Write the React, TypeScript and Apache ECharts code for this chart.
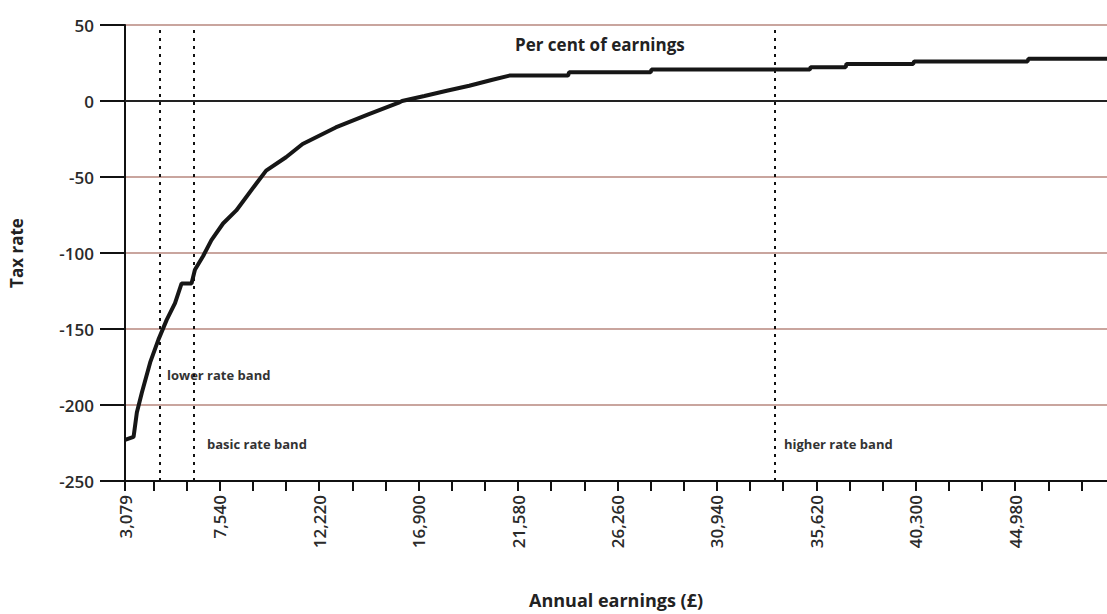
import React, { useEffect, useRef } from "react";
import * as echarts from "echarts";

// Annual earnings (£) sampled along the curve
const earnings = [
  3079, 3482, 3637, 3871, 4264, 4652, 5041, 5434, 5743, 6211, 6370, 6758, 7147,
  7694, 8317, 9253, 9721, 10657, 11438, 12997, 14560, 15964, 16119, 17171,
  18224, 19282, 20330, 21173, 23934, 23980, 27818, 27860, 35311, 35350, 36996,
  37040, 40178, 40220, 45560, 45600, 49300,
];
// Tax rate, per cent of earnings
const taxRate = [
  -223, -221, -205, -192, -172, -157, -144, -133, -120, -120, -111, -102, -91.5,
  -80.6, -72, -54.4, -45.8, -37, -28.3, -17.4, -8.7, -1.1, 0, 3.3, 6.7, 10,
  13.8, 16.7, 16.7, 18.9, 18.9, 20.7, 20.7, 22.2, 22.2, 24.4, 24.4, 26, 26,
  27.8, 27.8,
];

const xTickValues = [
  3079, 4420, 5980, 7540, 9100, 10660, 12220, 13780, 15340, 16900, 18460, 20020,
  21580, 23140, 24700, 26260, 27820, 29380, 30940, 32500, 34060, 35620, 37180,
  38740, 40300, 41860, 43420, 44980, 46540, 48100,
];
const xLabelValues = [
  3079, 7540, 12220, 16900, 21580, 26260, 30940, 35620, 40300, 44980,
];
const yTicks = [-250, -200, -150, -100, -50, 0, 50];

const bandStarts = [4700, 6320, 33670];
const bandNames = ["lower rate band", "basic rate band", "higher rate band"];

const FONT = "'Open Sans', sans-serif";

export default function App() {
  const ref = useRef<HTMLDivElement>(null);

  useEffect(() => {
    document.body.style.margin = "0";
    if (!ref.current) return;
    const chart = echarts.init(ref.current, undefined, { renderer: "svg" });

    const data = earnings.map((e, i) => [e, taxRate[i]]);

    chart.setOption({
      animation: false,
      backgroundColor: "#ffffff",
      grid: { left: 121, right: 0, top: 25, bottom: 131, containLabel: false },
      xAxis: {
        type: "value",
        min: 3079,
        max: 49300,
        name: "Annual earnings (£)",
        nameLocation: "middle",
        nameGap: 110,
        nameTextStyle: {
          fontFamily: FONT,
          fontSize: 18,
          fontWeight: "bold",
          color: "#222",
        },
        axisLine: {
          show: true,
          onZero: false,
          lineStyle: { color: "#111", width: 2 },
        },
        axisTick: {
          show: true,
          length: 10,
          lineStyle: { color: "#111", width: 2 },
          customValues: xTickValues,
        },
        axisLabel: {
          show: true,
          rotate: 90,
          margin: 14,
          fontFamily: FONT,
          fontSize: 17,
          fontWeight: 600,
          color: "#2a2a2a",
          customValues: xLabelValues,
          formatter: (v: number) => v.toLocaleString("en-GB"),
        },
        splitLine: { show: false },
      },
      yAxis: {
        type: "value",
        min: -250,
        max: 50,
        interval: 50,
        name: "Tax rate",
        nameLocation: "middle",
        nameGap: 100,
        nameTextStyle: {
          fontFamily: FONT,
          fontSize: 17,
          fontWeight: "bold",
          color: "#222",
        },
        axisLine: { show: true, lineStyle: { color: "#111", width: 2 } },
        axisTick: {
          show: true,
          length: 25,
          lineStyle: { color: "#111", width: 2 },
        },
        axisLabel: {
          margin: 31,
          fontFamily: FONT,
          fontSize: 17,
          fontWeight: 600,
          color: "#2a2a2a",
          customValues: yTicks,
        },
        splitLine: {
          show: true,
          lineStyle: { color: "#c9a59e", width: 2 },
        },
      },
      series: [
        {
          type: "line",
          data,
          showSymbol: false,
          symbol: "none",
          lineStyle: { color: "#161616", width: 4 },
          z: 5,
          markLine: {
            silent: true,
            symbol: "none",
            label: { show: false },
            data: [
              {
                yAxis: 0,
                lineStyle: { color: "#222", width: 2, type: "solid" },
              },
              ...bandStarts.map((b) => ({
                xAxis: b,
                lineStyle: { color: "#111", width: 2, type: [3, 5] },
              })),
            ],
          },
        },
      ],
      graphic: [
        {
          type: "text",
          left: 515,
          top: 36,
          style: {
            text: "Per cent of earnings",
            font: `bold 17px ${FONT}`,
            fill: "#222",
          },
        },
        {
          type: "text",
          left: 167,
          top: 368,
          style: {
            text: bandNames[0],
            font: `bold 13px ${FONT}`,
            fill: "#333",
          },
        },
        {
          type: "text",
          left: 207,
          top: 437,
          style: {
            text: bandNames[1],
            font: `bold 13px ${FONT}`,
            fill: "#333",
          },
        },
        {
          type: "text",
          left: 784,
          top: 437,
          style: {
            text: bandNames[2],
            font: `bold 13px ${FONT}`,
            fill: "#333",
          },
        },
      ],
    });

    return () => chart.dispose();
  }, []);

  return <div ref={ref} style={{ width: 1107, height: 614 }} />;
}
